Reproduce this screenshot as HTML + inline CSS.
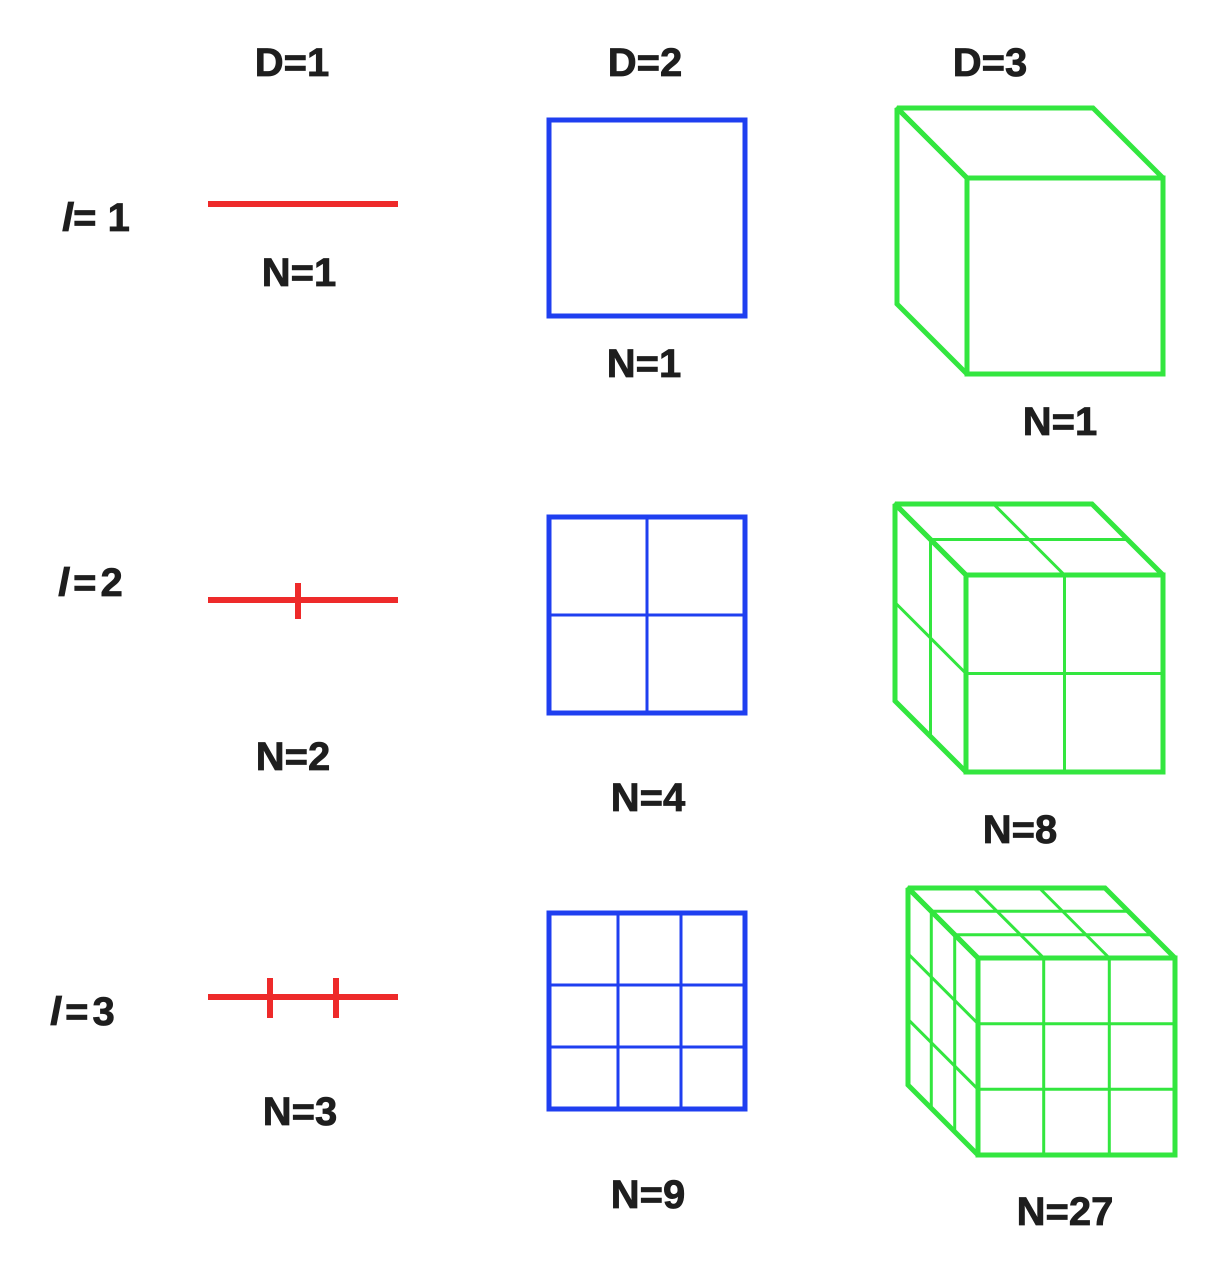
<!DOCTYPE html>
<html><head><meta charset="utf-8"><style>
html,body{margin:0;padding:0;background:#fff;}
svg{display:block}
text{font-family:"Liberation Sans",sans-serif;font-weight:bold;font-size:40px;fill:#1e1e1e;stroke:#1e1e1e;stroke-width:0.8}
</style></head><body>
<svg width="1210" height="1264" viewBox="0 0 1210 1264" xmlns="http://www.w3.org/2000/svg">
<text x="292" y="76" text-anchor="middle">D=1</text>
<text x="645" y="76" text-anchor="middle">D=2</text>
<text x="990" y="76" text-anchor="middle">D=3</text>
<text x="62" y="231"><tspan font-style="italic">l</tspan>= 1</text>
<text x="58" y="596" letter-spacing="4"><tspan font-style="italic">l</tspan>=2</text>
<text x="50" y="1025" letter-spacing="4"><tspan font-style="italic">l</tspan>=3</text>
<text x="299" y="286" text-anchor="middle">N=1</text>
<text x="644" y="377" text-anchor="middle">N=1</text>
<text x="1060" y="435" text-anchor="middle">N=1</text>
<text x="293" y="770" text-anchor="middle">N=2</text>
<text x="648" y="811" text-anchor="middle">N=4</text>
<text x="1020" y="843" text-anchor="middle">N=8</text>
<text x="300" y="1125" text-anchor="middle">N=3</text>
<text x="648" y="1208" text-anchor="middle">N=9</text>
<text x="1065" y="1225" text-anchor="middle">N=27</text>

<g stroke="#ee2a2a" stroke-width="6" fill="none">
<line x1="208" y1="204" x2="398" y2="204"/>
<line x1="208" y1="600" x2="398" y2="600"/>
<line x1="298" y1="583" x2="298" y2="619"/>
<line x1="208" y1="997" x2="398" y2="997"/>
<line x1="270" y1="978" x2="270" y2="1018"/>
<line x1="336" y1="978" x2="336" y2="1018"/>
</g>

<g stroke="#1f3ff0" fill="none">
<rect x="549" y="120" width="196" height="196" stroke-width="5"/>
<rect x="549" y="517" width="196" height="196" stroke-width="5"/>
<line x1="647" y1="517" x2="647" y2="713" stroke-width="3"/>
<line x1="549" y1="615" x2="745" y2="615" stroke-width="3"/>
<rect x="549" y="913" width="196" height="196" stroke-width="5"/>
<line x1="618" y1="913" x2="618" y2="1109" stroke-width="3"/>
<line x1="681" y1="913" x2="681" y2="1109" stroke-width="3"/>
<line x1="549" y1="985" x2="745" y2="985" stroke-width="3"/>
<line x1="549" y1="1047" x2="745" y2="1047" stroke-width="3"/>
</g>

<g stroke="#33e63f" fill="none" stroke-linejoin="miter" stroke-miterlimit="2">
<g stroke-width="5">
<rect x="967" y="178" width="196" height="196"/>
<polygon points="967,178 897,108 1093,108 1163,178"/>
<polygon points="967,178 897,108 897,304 967,374"/>
</g>
<g stroke-width="5">
<rect x="966" y="575" width="197" height="197"/>
<polygon points="966,575 895,504 1092,504 1163,575"/>
<polygon points="966,575 895,504 895,701 966,772"/>
</g>
<g stroke-width="3">
<line x1="1064.5" y1="575" x2="1064.5" y2="772"/>
<line x1="966" y1="673.5" x2="1163" y2="673.5"/>
<line x1="1064.5" y1="575" x2="993.5" y2="504"/>
<line x1="930.5" y1="539.5" x2="1127.5" y2="539.5"/>
<line x1="930.5" y1="539.5" x2="930.5" y2="736.5"/>
<line x1="966" y1="673.5" x2="895" y2="602.5"/>
</g>
<g stroke-width="5">
<rect x="978" y="958" width="197" height="197"/>
<polygon points="978,958 908,888 1105,888 1175,958"/>
<polygon points="978,958 908,888 908,1085 978,1155"/>
</g>
<g stroke-width="3">
<line x1="1043.7" y1="958" x2="1043.7" y2="1155"/>
<line x1="1109.3" y1="958" x2="1109.3" y2="1155"/>
<line x1="978" y1="1023.7" x2="1175" y2="1023.7"/>
<line x1="978" y1="1089.3" x2="1175" y2="1089.3"/>
<line x1="1043.7" y1="958" x2="973.7" y2="888"/>
<line x1="1109.3" y1="958" x2="1039.3" y2="888"/>
<line x1="954.7" y1="934.7" x2="1151.7" y2="934.7"/>
<line x1="931.3" y1="911.3" x2="1128.3" y2="911.3"/>
<line x1="954.7" y1="934.7" x2="954.7" y2="1131.7"/>
<line x1="931.3" y1="911.3" x2="931.3" y2="1108.3"/>
<line x1="978" y1="1023.7" x2="908" y2="953.7"/>
<line x1="978" y1="1089.3" x2="908" y2="1019.3"/>
</g>
</g>
</svg>
</body></html>
